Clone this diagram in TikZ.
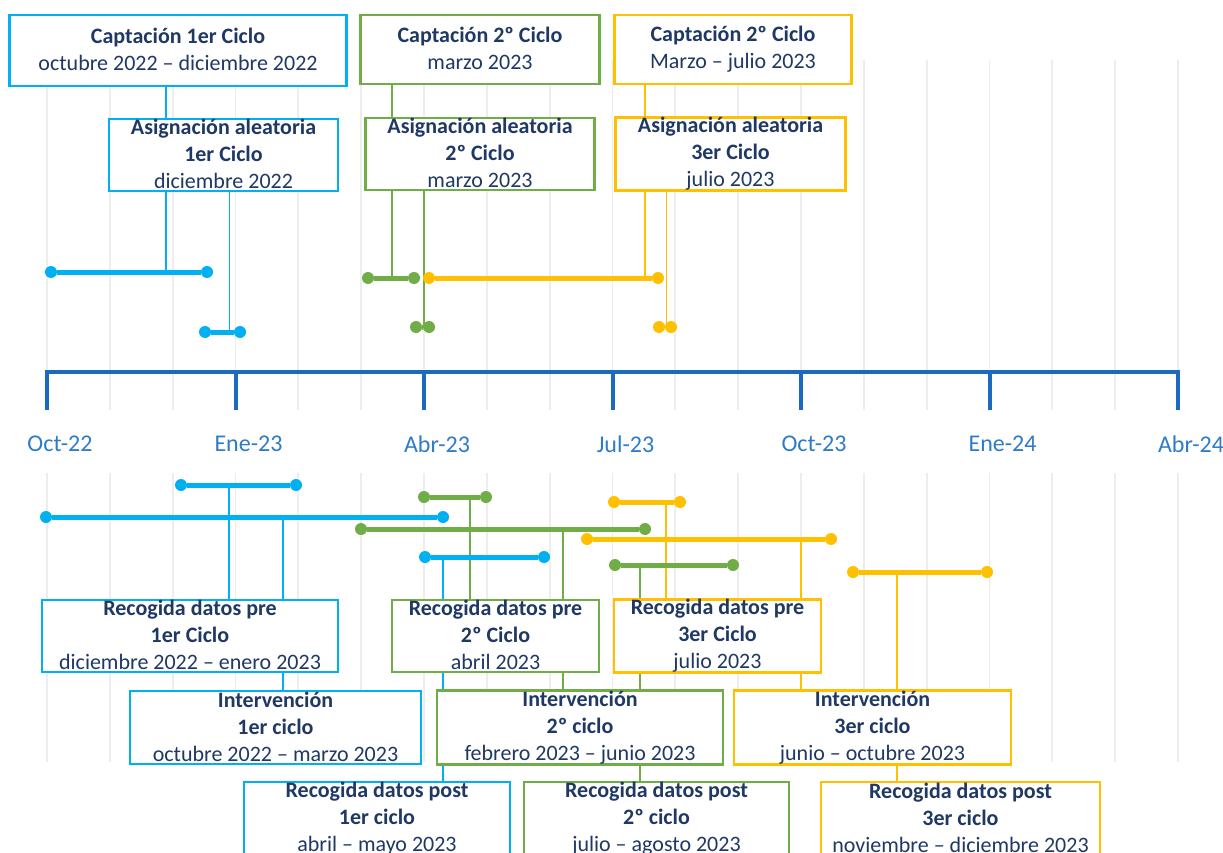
\documentclass[tikz,border=0pt]{standalone}
\usepackage{fontspec}
\setmainfont{Carlito}
\usetikzlibrary{arrows.meta}
\pgfdeclarelayer{fondo}
\pgfsetlayers{fondo,main}
\definecolor{cian}{HTML}{00B0F0}
\definecolor{verde}{HTML}{70AD47}
\definecolor{ambar}{HTML}{FFC000}
\definecolor{azuleje}{HTML}{1A6BBF}
\definecolor{azulfecha}{HTML}{2E7BC8}
\definecolor{azultexto}{HTML}{1F3864}
\definecolor{gris}{HTML}{EDEDED}
\newcommand{\puntal}{\rule[-2pt]{0pt}{23pt}}
\tikzset{
	hito/.style={rectangle, line width=2.9pt, fill=white, align=center, inner sep=0pt, text=azultexto, font=\fontsize{22}{27}\selectfont, execute at begin node=\puntal, execute at end node=\puntal},
	barra/.style={line width=5pt, {Circle[length=12pt, line width=0pt]}-{Circle[length=12pt, line width=0pt]}, shorten <=-6pt, shorten >=-6pt},
	enlace/.style={line width=1.7pt},
	rejilla/.style={draw=gris, line width=1.8pt},
	eje/.style={draw=azuleje, line width=4pt},
	fecha/.style={text=azulfecha, font=\fontsize{24}{28}\selectfont},
}

\begin{document}
\begin{tikzpicture}[x=1pt, y=-1pt]
	\useasboundingbox (0,0) rectangle (1223,853);

	% cajas de arriba
	\node[hito, draw=cian, minimum width=337pt, minimum height=71pt] (cap1) at (178,50.5) {\textbf{Captación 1er Ciclo}\\octubre 2022 – diciembre 2022};
	\node[hito, draw=verde, minimum width=239pt, minimum height=69pt] (cap2) at (480,49.5) {\textbf{Captación 2º Ciclo}\\marzo 2023};
	\node[hito, draw=ambar, minimum width=237pt, minimum height=69pt] (cap3) at (733,49.5) {\textbf{Captación 2º Ciclo}\\Marzo – julio 2023};
	\node[hito, draw=cian, minimum width=229pt, minimum height=72pt] (asig1) at (223.5,155) {\textbf{Asignación aleatoria}\\\textbf{1er Ciclo}\\diciembre 2022};
	\node[hito, draw=verde, minimum width=229pt, minimum height=72pt] (asig2) at (480,154) {\textbf{Asignación aleatoria}\\\textbf{2º Ciclo}\\marzo 2023};
	\node[hito, draw=ambar, minimum width=230pt, minimum height=72pt] (asig3) at (730.5,154) {\textbf{Asignación aleatoria}\\\textbf{3er Ciclo}\\julio 2023};

	% barras de arriba
	\draw[barra, cian] (51,272) -- (207,272);
	\draw[barra, cian] (205,332) -- (240,332);
	\draw[barra, verde] (368,278) -- (414,278);
	\draw[barra, verde] (416,327) -- (429,327);
	\draw[barra, ambar] (429,278) -- (658,278);
	\draw[barra, ambar] (659,327) -- (671,327);
	\coordinate (s1) at (166,272);
	\coordinate (s2) at (229.5,332);
	\coordinate (s3) at (392,278);
	\coordinate (s4) at (424,327);
	\coordinate (s5) at (645,278);
	\coordinate (s6) at (666.5,327);

	% eje
	\draw[eje, line cap=rect] (47,372) -- (1178,372);
	\foreach \t [count=\i from 0] in {Oct-22,Ene-23,Abr-23,Jul-23,Oct-23,Ene-24,Abr-24} {
		\draw[eje] (47+188.5*\i,372) -- (47+188.5*\i,410);
		\node[fecha] (f\i) at (60+188.5*\i,444) {\t};
	}

	% barras de abajo
	\draw[barra, cian] (181,485) -- (296,485);
	\draw[barra, cian] (46,517) -- (443,517);
	\draw[barra, verde] (424,497) -- (486,497);
	\draw[barra, verde] (361,529) -- (645,529);
	\draw[barra, cian] (425,557) -- (544,557);
	\draw[barra, ambar] (614,502) -- (680,502);
	\draw[barra, ambar] (587,539) -- (831,539);
	\draw[barra, verde] (615,565) -- (733,565);
	\draw[barra, ambar] (853,572) -- (987,572);
	\coordinate (i1) at (229,485);
	\coordinate (i2) at (283,517);
	\coordinate (i3) at (470,497);
	\coordinate (i4) at (563,529);
	\coordinate (i5) at (443,557);
	\coordinate (i6) at (666,502);
	\coordinate (i7) at (801,539);
	\coordinate (i8) at (640,565);
	\coordinate (i9) at (897,572);

	% cajas de abajo
	\node[hito, draw=cian, minimum width=296pt, minimum height=72pt] (pre1) at (190,636) {\textbf{Recogida datos pre}\\\textbf{1er Ciclo}\\diciembre 2022 – enero 2023};
	\node[hito, draw=verde, minimum width=207pt, minimum height=72pt] (pre2) at (495.5,636) {\textbf{Recogida datos pre}\\\textbf{2º Ciclo}\\abril 2023};
	\node[hito, draw=ambar, minimum width=207pt, minimum height=72pt] (pre3) at (717.5,636) {\textbf{Recogida datos pre}\\\textbf{3er Ciclo}\\julio 2023};
	\node[hito, draw=cian, minimum width=291pt, minimum height=73pt] (int1) at (275.5,727.5) {\textbf{Intervención}\\\textbf{1er ciclo}\\octubre 2022 – marzo 2023};
	\node[hito, draw=verde, minimum width=286pt, minimum height=73pt] (int2) at (580,727.5) {\textbf{Intervención}\\\textbf{2º ciclo}\\febrero 2023 – junio 2023};
	\node[hito, draw=ambar, minimum width=277pt, minimum height=73pt] (int3) at (872.5,727.5) {\textbf{Intervención}\\\textbf{3er ciclo}\\junio – octubre 2023};
	\node[hito, draw=cian, minimum width=266pt, minimum height=74pt] (post1) at (377,819) {\textbf{Recogida datos post}\\\textbf{1er ciclo}\\abril – mayo 2023};
	\node[hito, draw=verde, minimum width=265pt, minimum height=74pt] (post2) at (656.5,819) {\textbf{Recogida datos post}\\\textbf{2º ciclo}\\julio – agosto 2023};
	\node[hito, draw=ambar, minimum width=279pt, minimum height=74pt] (post3) at (960.5,819) {\textbf{Recogida datos post}\\\textbf{3er ciclo}\\noviembre – diciembre 2023};

	\begin{pgfonlayer}{fondo}
		\fill[white] (0,0) rectangle (1223,853);
		\foreach \m in {0,...,18} {
			\draw[rejilla] (47+62.83*\m,60) -- (47+62.83*\m,410);
			\draw[rejilla] (47+62.83*\m,473) -- (47+62.83*\m,762);
		}
		\draw[enlace, cian] (s1) -- (s1 |- cap1.south);
		\draw[enlace, cian] (s2) -- (s2 |- asig1.south);
		\draw[enlace, verde] (s3) -- (s3 |- cap2.south);
		\draw[enlace, verde] (s4) -- (s4 |- asig2.south);
		\draw[enlace, ambar] (s5) -- (s5 |- cap3.south);
		\draw[enlace, ambar] (s6) -- (s6 |- asig3.south);
		\draw[enlace, cian] (i1) -- (i1 |- pre1.north);
		\draw[enlace, cian] (i2) -- (i2 |- int1.north);
		\draw[enlace, verde] (i3) -- (i3 |- pre2.north);
		\draw[enlace, verde] (i4) -- (i4 |- int2.north);
		\draw[enlace, cian] (i5) -- (i5 |- post1.north);
		\draw[enlace, ambar] (i6) -- (i6 |- pre3.north);
		\draw[enlace, ambar] (i7) -- (i7 |- int3.north);
		\draw[enlace, verde] (i8) -- (i8 |- post2.north);
		\draw[enlace, ambar] (i9) -- (i9 |- post3.north);
	\end{pgfonlayer}
\end{tikzpicture}
\end{document}
